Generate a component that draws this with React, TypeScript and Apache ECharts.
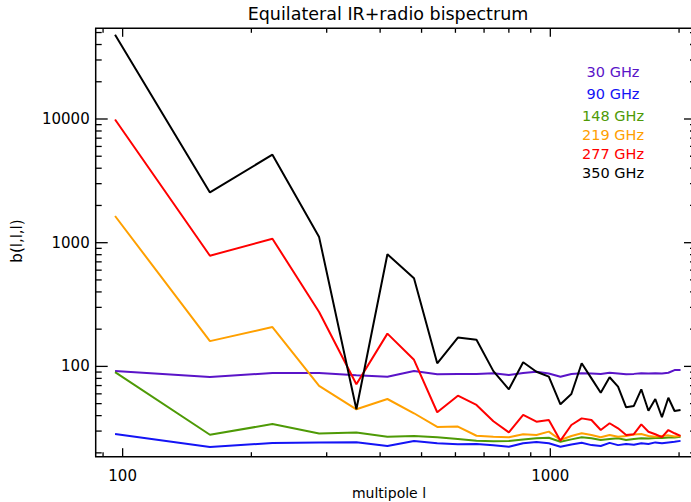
import React, { useEffect, useRef } from 'react';
import * as echarts from 'echarts';

// multipole bin centres
const multipoles = [96, 160, 224, 288, 352, 416, 480, 544, 608, 672, 736, 800, 864, 928, 992, 1056, 1120, 1184, 1248, 1312, 1376, 1440, 1504, 1568, 1632, 1696, 1760, 1824, 1888, 1952, 2016];

const ghz30 = [91.8, 82, 88.4, 88.4, 84.7, 82.6, 91.8, 86.3, 86.8, 86.8, 88, 85.2, 88.4, 90.6, 87.6, 82.6, 86.8, 88, 87.6, 86.8, 88.9, 87.6, 86.3, 87, 88, 87.6, 88, 87.6, 88.9, 93.4, 93.4];
const ghz90 = [28.4, 22.3, 24.0, 24.3, 24.4, 22.7, 24.9, 23.9, 23.5, 23.6, 23.0, 22.4, 23.9, 24.5, 23.9, 22.4, 23.4, 24.1, 23.1, 22.7, 24.1, 23.1, 23.6, 23.3, 23.9, 23.6, 24.3, 23.9, 24.3, 24.6, 25.0];
const ghz148 = [90, 28, 34.2, 28.7, 29.2, 27.0, 27.4, 26.7, 25.9, 25.1, 24.8, 24.9, 25.7, 26.2, 26.5, 24.6, 25.7, 26.7, 26.2, 25.4, 25.9, 26.2, 25.4, 25.9, 26.2, 26.1, 26.4, 26.4, 26.6, 26.6, 27.0];
const ghz219 = [1644, 160, 208, 69.5, 45, 54.5, 41.8, 32.4, 32.6, 27.5, 27, 26.7, 28.3, 27.9, 29.7, 25.4, 27.4, 28.8, 27.9, 26.7, 27.9, 27.0, 27.4, 28.2, 28.4, 27.4, 27.0, 27.4, 27.7, 27.1, 27.4];
const ghz277 = [9900, 785, 1077, 275, 71.7, 184, 113, 42.6, 58, 48.8, 36, 29.3, 40.5, 35.7, 36.9, 25.1, 33.6, 38, 36.9, 30.6, 34.7, 31.6, 27.9, 28.3, 34.0, 29.6, 28.3, 26.8, 30.6, 28.8, 27.4];
const ghz350 = [48000, 2550, 5150, 1110, 45, 806, 516, 106, 171, 164, 91.6, 65.3, 108, 90.6, 82.6, 49.4, 59.8, 106, 80, 61.3, 81.7, 68.6, 46.7, 47.9, 65.3, 43.8, 54.5, 38.8, 55.8, 43.6, 44.4];

const seriesNames = ['30 GHz', '90 GHz', '148 GHz', '219 GHz', '277 GHz', '350 GHz'];
const seriesValues = [ghz30, ghz90, ghz148, ghz219, ghz277, ghz350];

const xTickLabels = ['100', '1000'];
const yTickLabels = ['100', '1000', '10000'];
const xMinorTicks = [90, 200, 300, 400, 500, 600, 700, 800, 900, 2000];
const yMinorTicks = [20, 30, 40, 50, 60, 70, 80, 90, 200, 300, 400, 500, 600, 700, 800, 900, 2000, 3000, 4000, 5000, 6000, 7000, 8000, 9000, 20000, 30000, 40000, 50000];

const X_MIN = 86.5;
const X_MAX = 2191;
const Y_MIN = 18.62;
const Y_MAX = 54100;

// styling / layout
const colors = ['#5a14c8', '#1414f5', '#4e9a06', '#ffa000', '#ff0000', '#000000'];
const legendY = [72, 94, 116, 135, 154, 173];
const FONT = '"DejaVu Sans", sans-serif';

function matchLabel(labels: string[], v: number): string {
  const s = labels.find((t) => Math.abs(Number(t) - v) / v < 1e-6);
  return s ?? '';
}

export default function App() {
  const ref = useRef<HTMLDivElement>(null);
  useEffect(() => {
    const el = ref.current;
    if (!el) return;
    const chart = echarts.init(el, null, { renderer: 'svg' });

    const tickData: number[][] = [
      ...xTickLabels.map((t) => [Number(t), Y_MIN, 0, 1]),
      ...xMinorTicks.map((v) => [v, Y_MIN, 0, 0]),
      ...yTickLabels.map((t) => [X_MIN, Number(t), 1, 1]),
      ...yMinorTicks.map((v) => [X_MIN, v, 1, 0]),
    ];

    const lineSeries = seriesNames.map((name, i) => ({
      name,
      type: 'line',
      data: multipoles.map((l, j) => [l, seriesValues[i][j]]),
      symbol: 'none',
      lineStyle: { color: colors[i], width: 2 },
      itemStyle: { color: colors[i] },
      z: 3,
    }));

    const tickStyle = { stroke: '#000', lineWidth: 1.3 };

    chart.setOption({
      animation: false,
      backgroundColor: '#fff',
      grid: {
        left: 95.7,
        right: 4,
        top: 28.3,
        bottom: 45.3,
        show: true,
        borderColor: '#000',
        borderWidth: 1.5,
        backgroundColor: 'transparent',
      },
      xAxis: {
        type: 'log',
        logBase: 10,
        min: X_MIN,
        max: X_MAX,
        axisLine: { show: false },
        axisTick: { show: false },
        splitLine: { show: false },
        axisLabel: {
          color: '#000',
          fontSize: 15,
          fontFamily: FONT,
          margin: 12,
          formatter: (v: number) => matchLabel(xTickLabels, v),
        },
      },
      yAxis: {
        type: 'log',
        logBase: 10,
        min: Y_MIN,
        max: Y_MAX,
        axisLine: { show: false },
        axisTick: { show: false },
        splitLine: { show: false },
        axisLabel: {
          color: '#000',
          fontSize: 15,
          fontFamily: FONT,
          margin: 6,
          formatter: (v: number) => matchLabel(yTickLabels, v),
        },
      },
      graphic: [
        {
          type: 'text',
          x: 388,
          y: 14,
          style: { text: 'Equilateral IR+radio bispectrum', fill: '#000', font: `17.5px ${FONT}`, textAlign: 'center', textVerticalAlign: 'middle' },
        },
        {
          type: 'text',
          x: 389,
          y: 493,
          style: { text: 'multipole l', fill: '#000', font: `14px ${FONT}`, textAlign: 'center', textVerticalAlign: 'middle' },
        },
        {
          type: 'text',
          x: 17,
          y: 241,
          rotation: Math.PI / 2,
          style: { text: 'b(l,l,l)', fill: '#000', font: `15px ${FONT}`, textAlign: 'center', textVerticalAlign: 'middle' },
        },
        ...seriesNames.map((name, i) => ({
          type: 'text',
          x: 613,
          y: legendY[i],
          style: { text: name, fill: colors[i], font: `14.5px ${FONT}`, textAlign: 'center', textVerticalAlign: 'middle' },
        })),
      ],
      series: [
        ...lineSeries,
        {
          type: 'custom',
          clip: false,
          silent: true,
          z: 5,
          data: tickData,
          renderItem: (_params: any, api: any) => {
            const vx = api.value(0);
            const vy = api.value(1);
            const isY = api.value(2) === 1;
            const major = api.value(3) === 1;
            if (!isY) {
              const len = major ? 8.5 : 4.5;
              const pb = api.coord([vx, Y_MIN]);
              const pt = api.coord([vx, Y_MAX]);
              return {
                type: 'group',
                children: [
                  { type: 'line', shape: { x1: pb[0], y1: pb[1], x2: pb[0], y2: pb[1] - len }, style: tickStyle },
                  { type: 'line', shape: { x1: pt[0], y1: pt[1], x2: pt[0], y2: pt[1] + len }, style: tickStyle },
                ],
              };
            }
            const len = major ? 12 : 6;
            const pl = api.coord([X_MIN, vy]);
            const pr = api.coord([X_MAX, vy]);
            return {
              type: 'group',
              children: [
                { type: 'line', shape: { x1: pl[0], y1: pl[1], x2: pl[0] + len, y2: pl[1] }, style: tickStyle },
                { type: 'line', shape: { x1: pr[0], y1: pr[1], x2: pr[0] - len, y2: pr[1] }, style: tickStyle },
              ],
            };
          },
        },
      ],
    });

    return () => chart.dispose();
  }, []);

  return (
    <div style={{ position: 'fixed', left: 0, top: 0, width: 691, height: 502, overflow: 'hidden', background: '#fff' }}>
      <div ref={ref} style={{ width: 700, height: 502 }} />
    </div>
  );
}
